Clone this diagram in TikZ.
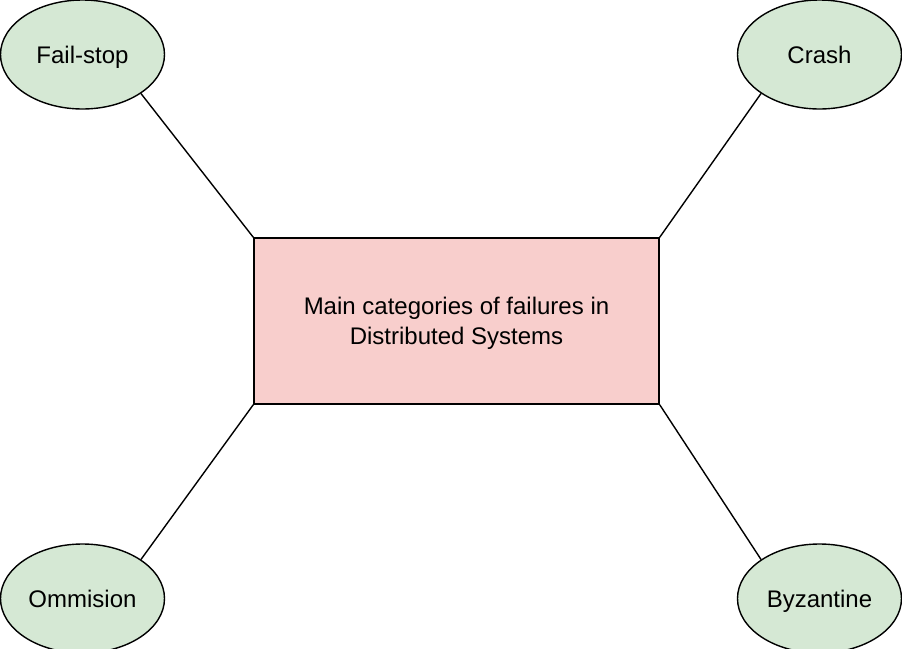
\documentclass[tikz,border=0pt]{standalone}
\usepackage{fontspec}
\setmainfont{Liberation Sans}
\usepackage{tikz}
\usetikzlibrary{shapes.geometric}

\definecolor{failgreen}{HTML}{D5E8D4}
\definecolor{mainpink}{HTML}{F8CECC}

\tikzset{
    failnode/.style={ellipse, draw=black, fill=failgreen, line width=0.7pt, inner sep=0pt,
        minimum width=82pt, minimum height=54.5pt, text height=8.6pt, text depth=0pt,
        font=\fontsize{12}{15}\selectfont},
    mainbox/.style={rectangle, draw=black, fill=mainpink, line width=0.7pt, inner sep=0pt,
        minimum width=202.5pt, minimum height=83pt, align=center, text depth=0pt,
        font=\fontsize{12}{15}\selectfont},
    link/.style={draw=black, line width=0.7pt}
}

\begin{document}
\begin{tikzpicture}[x=0.5pt, y=-0.5pt]
                    \useasboundingbox (0,0) rectangle (902,649);

                    \node[mainbox] (main) at (456.5,321) {Main categories of failures in\\Distributed Systems};

                    \node[failnode] (failstop) at (82.5,54.5) {Fail-stop};
                    \node[failnode] (crash) at (819.5,54.5) {Crash};
                    \node[failnode] (ommision) at (82.5,598.5) {Ommision};
                    \node[failnode] (byzantine) at (819.5,598.5) {Byzantine};

                    \draw[link] (failstop.south east) -- (main.north west);
                    \draw[link] (crash.south west) -- (main.north east);
                    \draw[link] (ommision.north east) -- (main.south west);
                    \draw[link] (byzantine.north west) -- (main.south east);
                \end{tikzpicture}
\end{document}
